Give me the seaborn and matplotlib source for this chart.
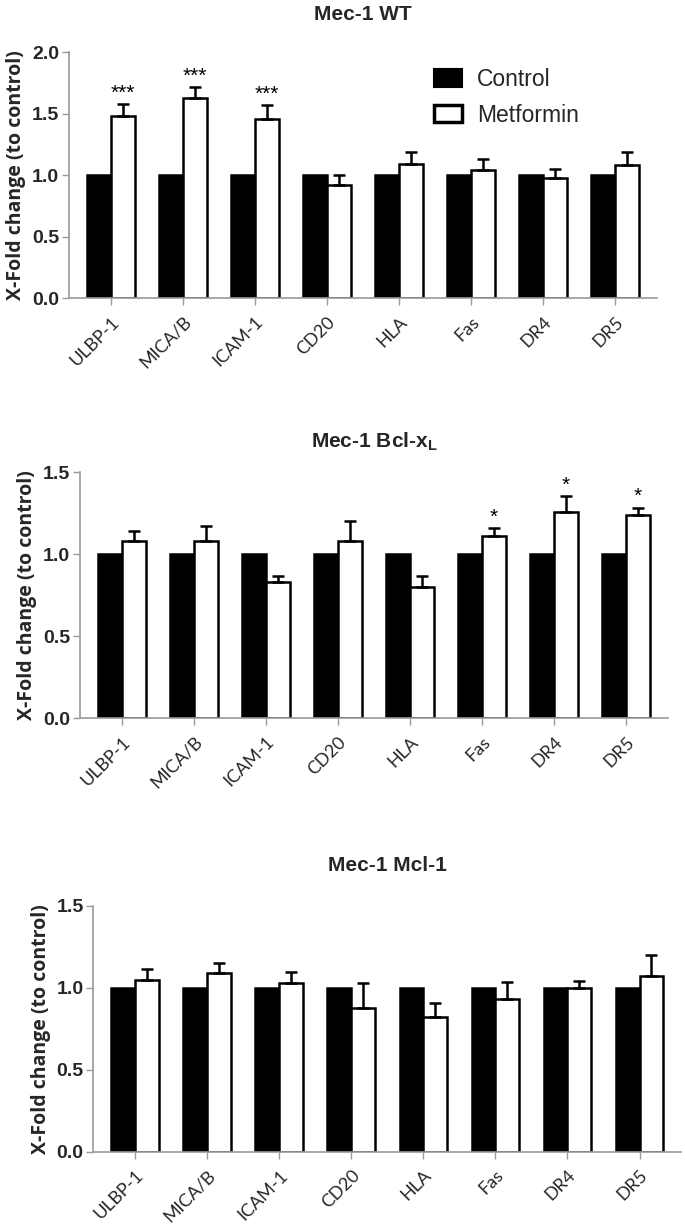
import matplotlib
matplotlib.use("Agg")
import matplotlib.pyplot as plt
from matplotlib import font_manager
from matplotlib.patches import Patch
import numpy as np
import pandas as pd
import seaborn as sns

# ---------------- data ----------------
markers = ["ULBP-1", "MICA/B", "ICAM-1", "CD20", "HLA", "Fas", "DR4", "DR5"]
groups = ["Control", "Metformin"]

control = [1.0, 1.0, 1.0, 1.0, 1.0, 1.0, 1.0, 1.0]

wt_metformin = [1.48, 1.63, 1.46, 0.92, 1.09, 1.04, 0.98, 1.08]
wt_err = [0.10, 0.09, 0.11, 0.08, 0.10, 0.09, 0.07, 0.11]
wt_stars = ["***", "***", "***", "", "", "", "", ""]

bcl_metformin = [1.08, 1.08, 0.83, 1.08, 0.80, 1.11, 1.26, 1.24]
bcl_err = [0.065, 0.095, 0.035, 0.125, 0.065, 0.05, 0.095, 0.045]
bcl_stars = ["", "", "", "", "", "*", "*", "*"]

mcl_metformin = [1.05, 1.09, 1.03, 0.88, 0.82, 0.93, 1.00, 1.07]
mcl_err = [0.065, 0.065, 0.07, 0.15, 0.085, 0.105, 0.045, 0.13]
mcl_stars = ["", "", "", "", "", "", "", ""]

titles = ["Mec-1 WT", "Mec-1 Bcl-x$_{L}$", "Mec-1 Mcl-1"]
ylims = [2.0, 1.5, 1.5]
ylabel = "X-Fold change (to control)"

# ---------------- fonts ----------------
sns.set_style("white")
names = {f.name for f in font_manager.fontManager.ttflist}
narrow = "Liberation Sans Narrow" if "Liberation Sans Narrow" in names else "Liberation Sans"
plt.rcParams["font.family"] = ["Liberation Sans", "DejaVu Sans"]
plt.rcParams["mathtext.default"] = "regular"

fig = plt.figure(figsize=(6.85, 12.27), dpi=100)
W, H = 685.0, 1227.0
# axes boxes in pixels: left, bottom(y of 0), top(y of max)
boxes = [(69, 298.3, 52.3), (80, 718.3, 472.3), (93.3, 1151.7, 906.0)]
title_off = [34, 29, 36]

datasets = [
    (wt_metformin, wt_err, wt_stars),
    (bcl_metformin, bcl_err, bcl_stars),
    (mcl_metformin, mcl_err, mcl_stars),
]

spine_col = "#9a9a9a"

for i, ((met, err, stars), (lx, by, ty)) in enumerate(zip(datasets, boxes)):
    ax = fig.add_axes([lx / W, 1 - by / H, 588 / W, (by - ty) / H])
    df = pd.DataFrame({
        "marker": markers * 2,
        "group": ["Control"] * len(markers) + ["Metformin"] * len(markers),
        "value": list(control) + list(met),
    })
    sns.barplot(data=df, x="marker", y="value", hue="group", order=markers,
                hue_order=groups, palette={"Control": "black", "Metformin": "white"},
                edgecolor="black", linewidth=1.8, width=0.66, errorbar=None,
                saturation=1, ax=ax, legend=False)
    cont = ax.containers[1]
    xs = [p.get_x() + p.get_width() / 2 for p in cont]
    tops = [p.get_height() for p in cont]
    ax.errorbar(xs, tops, yerr=[np.zeros(len(err)), err], fmt="none",
                ecolor="black", elinewidth=1.8, capsize=4.3, capthick=1.8, zorder=3)
    for x, t, e, s in zip(xs, tops, err, stars):
        if s:
            ax.annotate(s, (x, t + e), xytext=(0, 1), textcoords="offset points",
                        ha="center", va="bottom", fontsize=15, color="black",
                        family=["Liberation Sans", "DejaVu Sans"])
    ax.set_xlim(-0.58, 7.58)
    ax.set_ylim(0, ylims[i])
    ticks = np.arange(0, ylims[i] + 0.01, 0.5)
    ax.set_yticks(ticks)
    ax.set_yticklabels([f"{v:.1f}" for v in ticks],
                       fontsize=14, fontweight="bold", family=narrow)
    ax.set_xlabel("")
    ax.set_ylabel(ylabel, fontsize=14, fontweight="bold",
                  family=["Open Sans", "DejaVu Sans"], labelpad=4)
    ax.set_xticks(range(len(markers)))
    ax.set_xticklabels(markers, rotation=45, ha="right", rotation_mode="anchor",
                       fontsize=13, family=["Lato", "DejaVu Sans"])
    for side in ["top", "right"]:
        ax.spines[side].set_visible(False)
    for side in ["left", "bottom"]:
        ax.spines[side].set_color(spine_col)
        ax.spines[side].set_linewidth(1.2)
    ax.tick_params(axis="both", which="both", direction="out", length=5,
                   width=1.0, color=spine_col, left=True, bottom=True)
    ax.tick_params(axis="x", pad=6)
    ax.tick_params(axis="y", pad=2)
    ax.set_title(titles[i], fontsize=15, fontweight="bold", family=narrow,
                 pad=title_off[i] - 11)
    if i == 0:
        handles = [Patch(facecolor="black", edgecolor="black", linewidth=1.5),
                   Patch(facecolor="white", edgecolor="black", linewidth=2.5)]
        ax.legend(handles, groups, loc="upper left", bbox_to_anchor=(0.585, 1.02),
                  frameon=False, handlelength=1.25, handleheight=0.8,
                  handletextpad=0.65, labelspacing=0.55,
                  prop={"family": ["Liberation Sans", "DejaVu Sans"], "size": 16.5})

fig.savefig("out.png", dpi=100)
